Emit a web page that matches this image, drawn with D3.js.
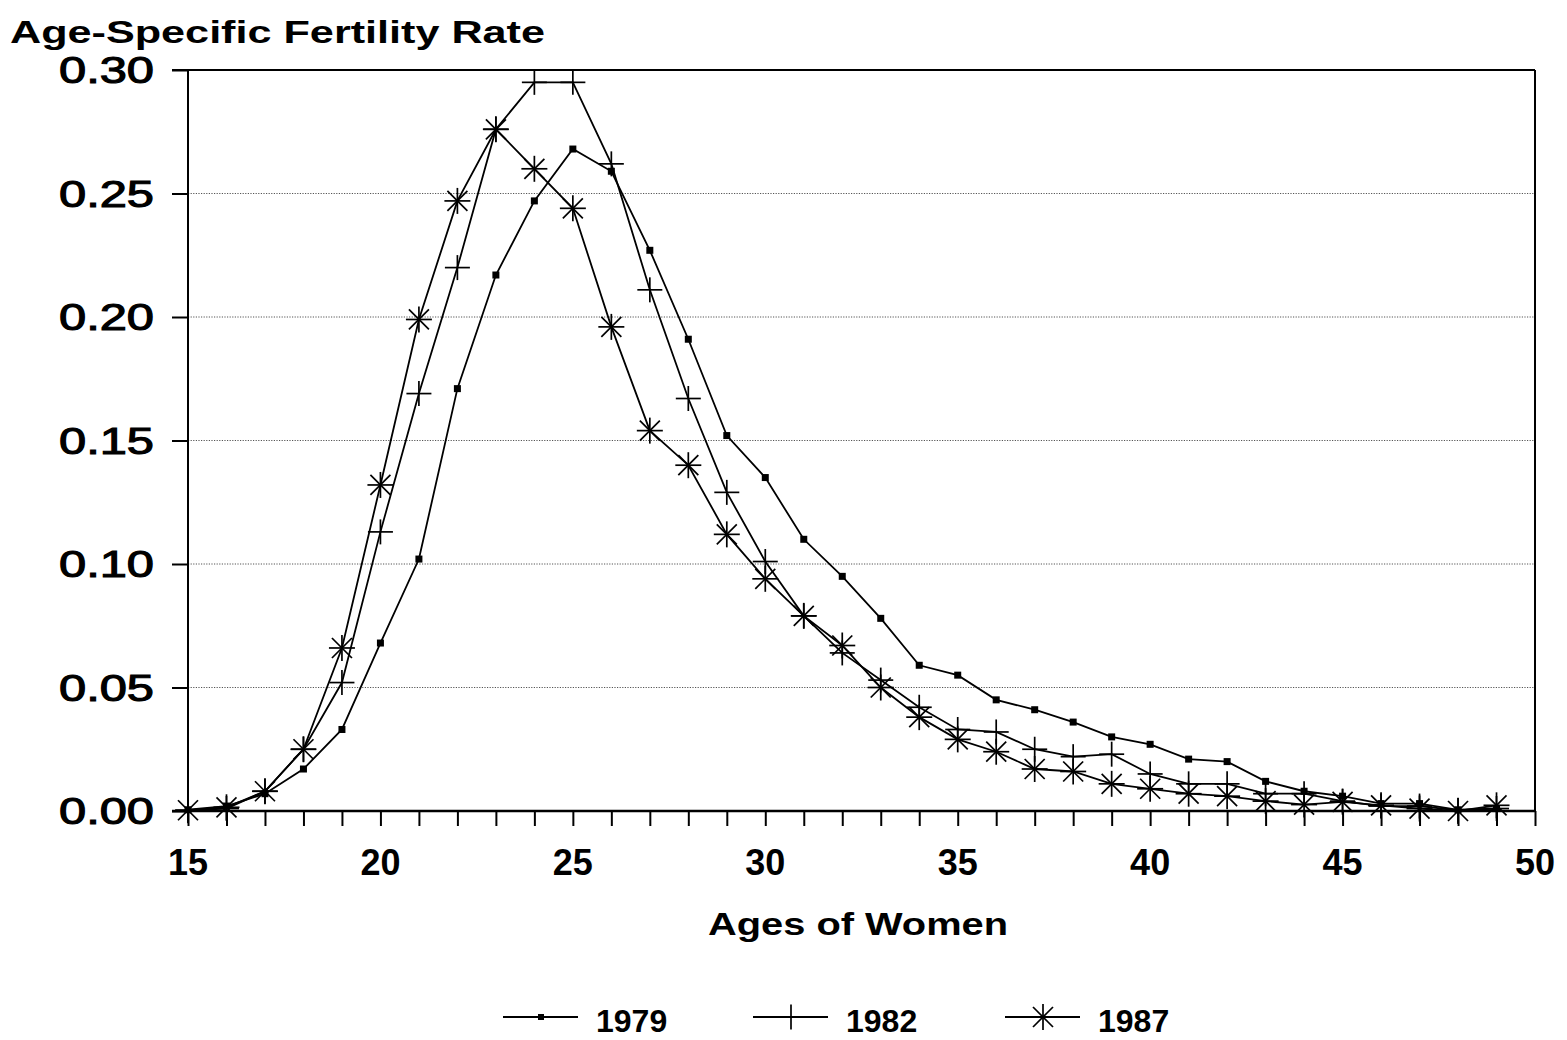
<!DOCTYPE html>
<html>
<head>
<meta charset="utf-8">
<script src="https://cdn.jsdelivr.net/npm/d3@7"></script>
<style>
  html, body { margin: 0; padding: 0; background: #fff; }
  svg { display: block; font-family: "Liberation Sans", Arial, Helvetica, sans-serif; }
</style>
</head>
<body>
<svg id="chart" width="1567" height="1040"></svg>
<script>
// ---- Data ----
const ages = [15,16,17,18,19,20,21,22,23,24,25,26,27,28,29,30,31,32,33,34,35,36,37,38,39,40,41,42,43,44,45,46,47,48,49];
const rate1979 = [0.0005,0.002,0.007,0.017,0.033,0.068,0.102,0.171,0.217,0.247,0.268,0.259,0.227,0.191,0.152,0.135,0.110,0.095,0.078,0.059,0.055,0.045,0.041,0.036,0.030,0.027,0.021,0.020,0.012,0.008,0.006,0.003,0.003,0.0005,0.001];
const rate1982 = [0.0003,0.001,0.008,0.025,0.052,0.113,0.169,0.220,0.276,0.295,0.295,0.262,0.211,0.167,0.129,0.101,0.079,0.064,0.053,0.042,0.033,0.032,0.025,0.022,0.023,0.015,0.011,0.011,0.007,0.007,0.004,0.002,0.002,0.0003,0.001];
const rate1987 = [0.0003,0.0015,0.008,0.025,0.066,0.132,0.199,0.247,0.276,0.260,0.244,0.196,0.154,0.140,0.112,0.094,0.079,0.067,0.050,0.038,0.029,0.024,0.017,0.016,0.011,0.009,0.007,0.006,0.004,0.0026,0.0037,0.0023,0.001,0.0,0.0023];
const seriesNames = ["1979","1982","1987"];
const markerTypes = ["square","plus","asterisk"];
const yTicks = [0,0.05,0.10,0.15,0.20,0.25,0.30];
const xLabelTicks = [15,20,25,30,35,40,45,50];
const yTitle = "Age-Specific Fertility Rate";
const xTitle = "Ages of Women";

const seriesValues = [rate1979, rate1982, rate1987];

// ---- Layout ----
const svg = d3.select("#chart");
const L = 188, R = 1535, T = 70, B = 811;
const x = d3.scaleLinear().domain([15,50]).range([L,R]);
const y = d3.scaleLinear().domain([0,0.30]).range([B,T]);

// gridlines
svg.append("g").selectAll("line")
  .data(yTicks.filter(v => v > 0 && v < 0.30))
  .join("line")
  .attr("x1", L).attr("x2", R)
  .attr("y1", d => y(d)).attr("y2", d => y(d))
  .attr("stroke", "#555").attr("stroke-width", 1)
  .attr("stroke-dasharray", "1.2,1.4");

// Y axis
const yAxis = d3.axisLeft(y).tickValues(yTicks).tickSize(16).tickPadding(18)
  .tickFormat(d3.format(".2f"));
const gy = svg.append("g").attr("transform", `translate(${L},0)`).call(yAxis);
gy.select(".domain").remove();
gy.selectAll(".tick line").attr("stroke","#000").attr("stroke-width",2);
gy.selectAll(".tick text")
  .attr("fill","#000")
  .style("font-size","36px")
  .style("font-weight","normal")
  .attr("stroke","#000").attr("stroke-width",1.1)
  .attr("dy","0.36em")
  .attr("textLength", 95)
  .attr("lengthAdjust","spacingAndGlyphs");

// X axis (ticks every year)
const xAxis = d3.axisBottom(x).tickValues(d3.range(15,51)).tickSize(15).tickFormat("");
const gx = svg.append("g").attr("transform", `translate(0,${B})`).call(xAxis);
gx.select(".domain").remove();
gx.selectAll(".tick line").attr("stroke","#000").attr("stroke-width",2);

// X labels
svg.append("g").selectAll("text")
  .data(xLabelTicks)
  .join("text")
  .attr("x", d => x(d)).attr("y", 875)
  .attr("text-anchor","middle")
  .style("font-size","36px").style("font-weight","bold")
  .text(d => d);

// Frame
svg.append("line").attr("x1", L).attr("x2", L).attr("y1", T).attr("y2", B)
  .attr("stroke","#000").attr("stroke-width",2);
svg.append("line").attr("x1", L-16).attr("x2", R).attr("y1", B).attr("y2", B)
  .attr("stroke","#000").attr("stroke-width",2.5);
svg.append("line").attr("x1", L-16).attr("x2", R).attr("y1", T).attr("y2", T)
  .attr("stroke","#000").attr("stroke-width",2);
svg.append("line").attr("x1", R).attr("x2", R).attr("y1", T).attr("y2", B)
  .attr("stroke","#000").attr("stroke-width",2);

// Titles
svg.append("text").attr("x", 10).attr("y", 43)
  .style("font-size","32px").style("font-weight","bold")
  .attr("textLength", 535).attr("lengthAdjust","spacingAndGlyphs")
  .text(yTitle);
svg.append("text").attr("x", 708).attr("y", 935)
  .style("font-size","31px").style("font-weight","bold")
  .attr("textLength", 300).attr("lengthAdjust","spacingAndGlyphs")
  .text(xTitle);

// Marker drawing
function drawMarker(g, type, cx, cy, legend) {
  if (type === "square") {
    const s = legend ? 6 : 7;
    g.append("rect").attr("x", cx - s/2).attr("y", cy - s/2)
      .attr("width", s).attr("height", s).attr("fill","#000");
  } else if (type === "plus") {
    const h = 12.5;
    g.append("line").attr("x1", cx-h).attr("x2", cx+h).attr("y1", cy).attr("y2", cy)
      .attr("stroke","#000").attr("stroke-width",1.7);
    g.append("line").attr("x1", cx).attr("x2", cx).attr("y1", cy-h).attr("y2", cy+h)
      .attr("stroke","#000").attr("stroke-width",1.7);
  } else {
    const h = 13, d = 10;
    const segs = [[-h,0,h,0],[0,-h,0,h],[-d,-d,d,d],[-d,d,d,-d]];
    segs.forEach(s => g.append("line")
      .attr("x1", cx+s[0]).attr("y1", cy+s[1]).attr("x2", cx+s[2]).attr("y2", cy+s[3])
      .attr("stroke","#000").attr("stroke-width",1.7));
  }
}

// Series
const line = d3.line().x((d,i) => x(ages[i])).y(d => y(d));
seriesValues.forEach((vals, si) => {
  const g = svg.append("g");
  g.append("path").datum(vals).attr("d", line)
    .attr("fill","none").attr("stroke","#000").attr("stroke-width",1.8);
  vals.forEach((v, i) => drawMarker(g, markerTypes[si], x(ages[i]), y(v), false));
});

// Legend
const legendX = [503, 753, 1005];
const legendY = 1017;
seriesNames.forEach((name, i) => {
  const g = svg.append("g");
  g.append("line").attr("x1", legendX[i]).attr("x2", legendX[i] + 75)
    .attr("y1", legendY).attr("y2", legendY).attr("stroke","#000").attr("stroke-width",1.8);
  drawMarker(g, markerTypes[i], legendX[i] + 38, legendY, true);
  g.append("text").attr("x", legendX[i] + 93).attr("y", legendY + 15)
    .style("font-size","32px").style("font-weight","bold")
    .text(name);
});
</script>
</body>
</html>
